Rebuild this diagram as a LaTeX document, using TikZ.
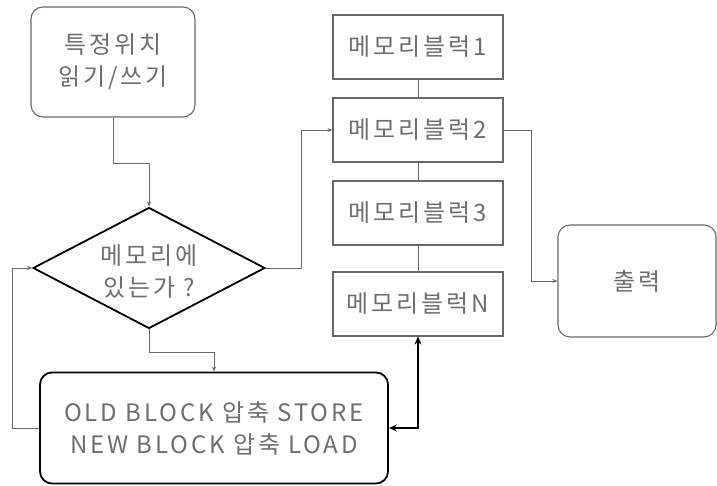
\documentclass[tikz,border=0pt]{standalone}
\usepackage{fontspec}
\setmainfont{Noto Sans CJK KR}[LetterSpace=12]
\usepackage{tikz}
\usetikzlibrary{shapes.geometric,arrows.meta}
\usepackage{xcolor}
\definecolor{txtgray}{HTML}{6E6E6E}
\definecolor{linegray}{HTML}{686868}

\begin{document}
\begin{tikzpicture}[
x=1pt, y=1pt,
>=Stealth,
every node/.style={
text=txtgray,
font=\fontsize{24}{32}\selectfont,
align=center,
inner sep=0pt
},
terminal/.style={
draw=linegray,
line width=1.1pt,
rounded corners=12pt
},
memblock/.style={
draw=linegray,
line width=1.1pt,
minimum width=170pt,
minimum height=64pt
},
decision/.style={
diamond,
draw=black,
line width=1.8pt,
minimum width=232pt,
minimum height=121pt
},
process/.style={
draw=black,
line width=1.8pt,
rounded corners=12pt,
minimum width=348pt,
minimum height=111pt
},
flow/.style={
->,
draw=linegray,
line width=0.9pt,
>={Stealth[length=5pt,width=4pt]}
}
]
\useasboundingbox (0,0) rectangle (717,486);

\node[terminal,minimum width=164pt,minimum height=110pt] (rw) at (113,424) {특정위치\\읽기/쓰기};
\node[decision] (inmem) at (149,218) {};
\node (inmemtext) at (149,214) {메모리에\\있는가 ?};
\node[process] (swap) at (214,58) {OLD BLOCK 압축 STORE\\NEW BLOCK 압축 LOAD};

\node[memblock] (m1) at (418,439) {메모리블럭1};
\node[memblock] (m2) at (418,356) {메모리블럭2};
\node[memblock] (m3) at (418,273) {메모리블럭3};
\node[memblock] (mn) at (418,182) {메모리블럭N};

\node[terminal,minimum width=158pt,minimum height=112pt] (out) at (637,205) {출력};

% memory chain
\draw[linegray,line width=0.9pt] (m1.south) -- (m2.north);
\draw[linegray,line width=0.9pt] (m2.south) -- (m3.north);
\draw[linegray,line width=0.9pt] (m3.south) -- (mn.north);

% flow
\draw[flow] (rw.south) -- ++(0,-46pt) -| (inmem.north);
\draw[flow] (inmem.south) -- ++(0,-23pt) -| (swap.north);
\draw[flow] (swap.west) -- ++(-27pt,0) |- (inmem.west);
\draw[flow] (inmem.east) -- ++(36pt,0) |- (m2.west);
\draw[flow] (m2.east) -- ++(28pt,0) |- (out.west);
\draw[<->,black,line width=2pt,>={Stealth[length=8pt,width=7pt]}] (mn.south) |- (swap.east);

\end{tikzpicture}
\end{document}
